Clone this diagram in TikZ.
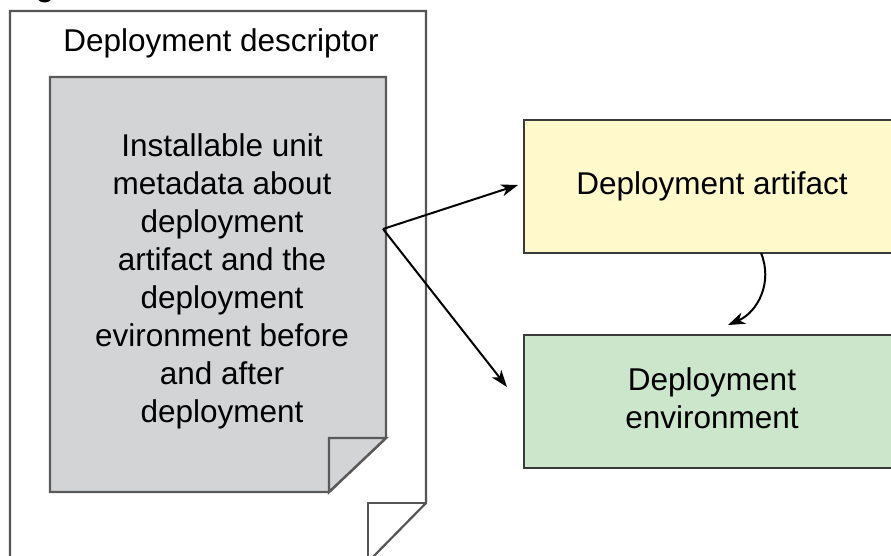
\documentclass[tikz,border=0pt]{standalone}
\usepackage{fontspec}
\setmainfont{Liberation Sans}
\usetikzlibrary{arrows.meta}
\definecolor{docgray}{HTML}{D3D4D6}
\definecolor{pageline}{HTML}{555555}
\definecolor{docline}{HTML}{5A5A5A}
\definecolor{artfill}{HTML}{FFF9CC}
\definecolor{envfill}{HTML}{CCE6CB}
\definecolor{boxline}{HTML}{3A3A3A}
\tikzset{
  lbl/.style={font=\fontsize{31.5}{38}\selectfont, align=center, inner sep=0pt},
  pagedraw/.style={draw=pageline, line width=2.2pt, line join=miter},
  docdraw/.style={draw=docline, line width=2.4pt, fill=docgray, line join=miter},
  infobox/.style={draw=boxline, line width=2.2pt, minimum width=376pt, minimum height=133pt, inner sep=0pt},
  conn/.style={draw=black, line width=2pt, -{Stealth[length=17pt, width=12pt, inset=5pt]}}
}
\begin{document}
\begin{tikzpicture}[x=1pt, y=-1pt]
\useasboundingbox (0,0) rectangle (891,556);
\fill[white] (0,0) rectangle (891,556);
% fragment of a title above the picture
\node[anchor=base west, inner sep=0pt, font=\fontsize{30}{36}\selectfont\bfseries] (title) at (9,-3.5) {Figure};
% outer page (deployment descriptor)
\draw[pagedraw, fill=white] (10,562) -- (10,11) -- (426,11) -- (426,503) -- (368,562) -- cycle;
\draw[pagedraw] (426,503) -- (368,503) -- (368,562);
\node[lbl] (dd) at (221,44.4) {\strut Deployment descriptor};
% inner grey document
\draw[docdraw] (50,77) -- (386,77) -- (386,438) -- (329,492) -- (50,492) -- cycle;
\draw[docdraw] (386,438) -- (329,438) -- (329,492) -- cycle;
\node[lbl] (meta) at (222,281.4) {\strut Installable unit\\\strut metadata about\\\strut deployment\\\strut artifact and the\\\strut deployment\\\strut evironment before\\\strut and after\\\strut deployment};
% right boxes
\node[infobox, fill=artfill] (art) at (712,186.5) {};
\node[lbl] (arttext) at (712,186.4) {\strut Deployment artifact};
\node[infobox, fill=envfill] (env) at (712,401.5) {};
\node[lbl] (envtext) at (712,401.4) {\strut Deployment\\\strut environment};
% connectors
\coordinate (src) at (383,229);
\coordinate (artin) at (518,185);
\coordinate (envin) at (507,387);
\coordinate (artout) at (761,253);
\coordinate (envtop) at (728,325);
\draw[conn] (src) -- (artin);
\draw[conn] (src) -- (envin);
\draw[conn] (artout) .. controls (773,282) and (758,312) .. (envtop);
\end{tikzpicture}
\end{document}
